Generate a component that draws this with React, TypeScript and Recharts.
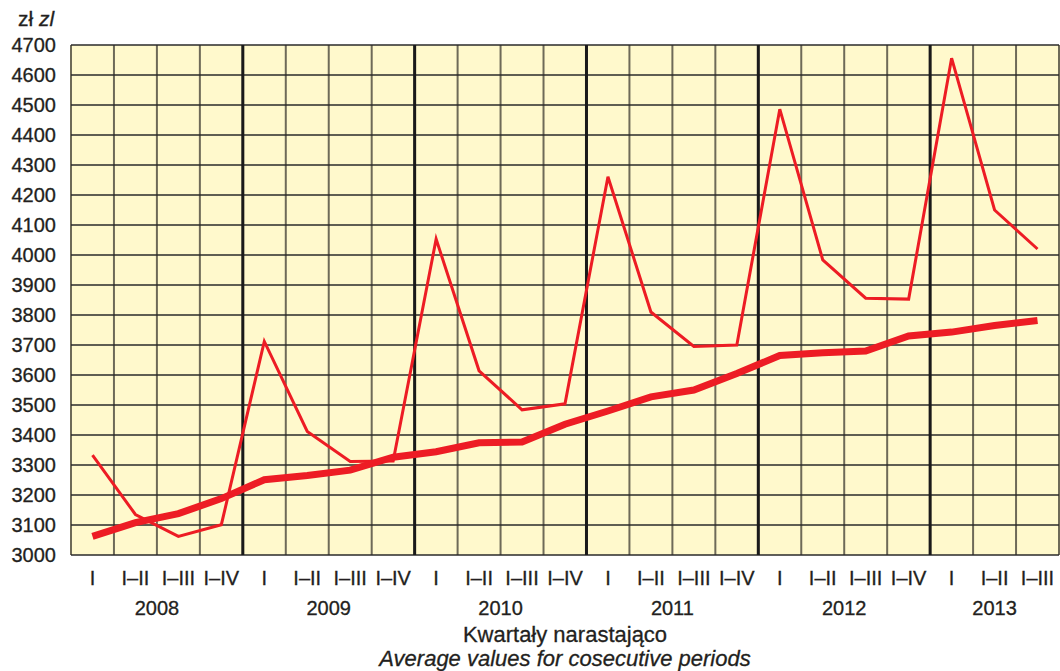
import React from 'react';
import {
  LineChart,
  Line,
  XAxis,
  YAxis,
  CartesianGrid,
  ReferenceLine,
} from 'recharts';

// category labels (cumulative quarters) per year
const years = ['2008', '2009', '2010', '2011', '2012', '2013'];
const quartersPerYear = [4, 4, 4, 4, 4, 3];
const quarterNames = ['I', 'I–II', 'I–III', 'I–IV'];

// red thin line – values for cumulative periods
const periodValues = [
  3333, 3135, 3062, 3101,
  3712, 3412, 3312, 3313,
  4053, 3614, 3484, 3504,
  4261, 3810, 3695, 3700,
  4486, 3984, 3856, 3853,
  4656, 4150, 4020,
];

// red thick line – trend
const trendValues = [
  3062, 3108, 3138, 3188,
  3251, 3265, 3283, 3326,
  3344, 3374, 3377, 3436,
  3480, 3527, 3550, 3605,
  3665, 3674, 3680, 3730,
  3743, 3765, 3782,
];

const yTicks = [
  3000, 3100, 3200, 3300, 3400, 3500, 3600, 3700, 3800,
  3900, 4000, 4100, 4200, 4300, 4400, 4500, 4600, 4700,
];

const FONT = '"Liberation Sans", Arial, Helvetica, sans-serif';
const TEXT = '#231f20';
const RED = '#ed1c24';

// build the table recharts needs (idx = position of the category)
const labels: string[] = [];
quartersPerYear.forEach((n) => {
  for (let q = 0; q < n; q++) labels.push(quarterNames[q]);
});
const data = labels.map((q, i) => ({
  idx: i,
  q,
  period: periodValues[i],
  trend: trendValues[i],
}));
const total = labels.length;
const xDomain = [-0.5, total - 0.5];
const categoryTicks = data.map((d) => d.idx);

// year boundaries and year label positions
const yearStarts: number[] = [];
quartersPerYear.reduce((acc, n) => {
  yearStarts.push(acc);
  return acc + n;
}, 0);
const yearCenters = yearStarts.map((s, i) => s + quartersPerYear[i] / 2 - 0.5);
const yearSeparators = yearStarts.slice(1).map((s) => s - 0.5);
const boundaries = Array.from({ length: total + 1 }, (_, i) => i - 0.5);

const tickStyle = {
  fontSize: 20,
  fill: TEXT,
  fontFamily: FONT,
  stroke: TEXT,
  strokeWidth: 0.3,
};

export default function App() {
  return (
    <div
      style={{
        position: 'absolute',
        left: 0,
        top: 0,
        width: 1060,
        height: 671,
        background: '#fff',
        fontFamily: FONT,
        color: TEXT,
      }}
    >
      <div
        style={{
          position: 'absolute',
          left: 18,
          top: 8,
          fontSize: 21,
          lineHeight: '22px',
          whiteSpace: 'nowrap',
          WebkitTextStroke: '0.3px ' + TEXT,
        }}
      >
        zł <i>zl</i>
      </div>

      <LineChart
        width={1060}
        height={671}
        data={data}
        margin={{ top: 45, right: 1, bottom: 56, left: 0 }}
      >
        <CartesianGrid
          xAxisId="grid"
          horizontal={false}
          fill="#fff9cc"
          stroke="#6e6a58"
          strokeWidth={2}
        />
        <CartesianGrid
          xAxisId="grid"
          vertical={false}
          stroke="#2a2a2a"
          strokeWidth={1.5}
        />
        <XAxis
          dataKey="idx"
          type="number"
          domain={xDomain}
          allowDataOverflow
          ticks={categoryTicks}
          interval={0}
          tickFormatter={(v: number) => labels[v] ?? ''}
          tickLine={false}
          axisLine={false}
          tickSize={0}
          tickMargin={16}
          height={30}
          tick={tickStyle}
        />
        <XAxis
          xAxisId="year"
          dataKey="idx"
          type="number"
          domain={xDomain}
          allowDataOverflow
          ticks={yearCenters}
          interval={0}
          tickFormatter={(v: number) => years[yearCenters.indexOf(v)] ?? ''}
          tickLine={false}
          axisLine={false}
          tickSize={0}
          tickMargin={16}
          height={30}
          tick={tickStyle}
        />
        <XAxis
          xAxisId="grid"
          dataKey="idx"
          type="number"
          domain={xDomain}
          allowDataOverflow
          ticks={boundaries}
          interval={0}
          height={0}
          hide
        />
        <YAxis
          domain={[3000, 4700]}
          ticks={yTicks}
          interval={0}
          allowDataOverflow
          width={71}
          tickLine={false}
          axisLine={false}
          tickSize={0}
          tickMargin={15}
          tick={tickStyle}
        />
        {yearSeparators.map((x) => (
          <ReferenceLine
            key={x}
            xAxisId="grid"
            x={x}
            stroke="#1a1a1a"
            strokeWidth={3}
          />
        ))}
        <Line
          dataKey="period"
          stroke={RED}
          strokeWidth={3}
          dot={false}
          isAnimationActive={false}
        />
        <Line
          dataKey="trend"
          stroke={RED}
          strokeWidth={7}
          dot={false}
          isAnimationActive={false}
        />
      </LineChart>

      <div
        style={{
          position: 'absolute',
          left: 71,
          width: 988,
          top: 623,
          textAlign: 'center',
          fontSize: 22,
          lineHeight: '24px',
          WebkitTextStroke: '0.3px ' + TEXT,
        }}
      >
        Kwartały narastająco
      </div>
      <div
        style={{
          position: 'absolute',
          left: 71,
          width: 988,
          top: 647,
          textAlign: 'center',
          fontSize: 22,
          lineHeight: '24px',
          fontStyle: 'italic',
          WebkitTextStroke: '0.3px ' + TEXT,
        }}
      >
        Average values for cosecutive periods
      </div>
    </div>
  );
}
